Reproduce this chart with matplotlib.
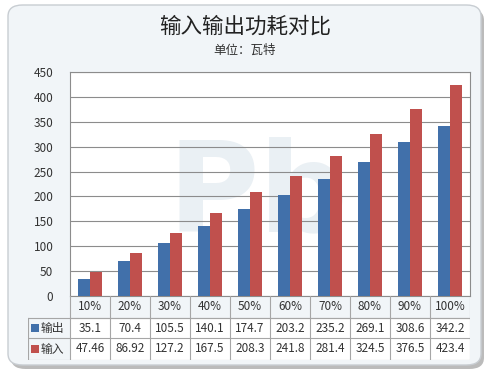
import matplotlib.pyplot as plt
import numpy as np
from matplotlib.patches import FancyBboxPatch, Rectangle

plt.rcParams['font.family'] = ['Noto Sans CJK SC', 'DejaVu Sans']

categories = ['10%', '20%', '30%', '40%', '50%', '60%', '70%', '80%', '90%', '100%']
output_w = [35.1, 70.4, 105.5, 140.1, 174.7, 203.2, 235.2, 269.1, 308.6, 342.2]
input_w = [47.46, 86.92, 127.2, 167.5, 208.3, 241.8, 281.4, 324.5, 376.5, 423.4]
output_lbl = ['35.1', '70.4', '105.5', '140.1', '174.7', '203.2', '235.2', '269.1', '308.6', '342.2']
input_lbl = ['47.46', '86.92', '127.2', '167.5', '208.3', '241.8', '281.4', '324.5', '376.5', '423.4']
series = ['输出', '输入']
colors = ['#4170AA', '#C0504D']

W, H = 487, 375
fig = plt.figure(figsize=(W / 100, H / 100), dpi=100)
fig.patch.set_facecolor('white')

def fx(px):
    return px / W

def fy(py):
    return 1 - py / H

# outer rounded panel with shadow
shadow = FancyBboxPatch((fx(11), fy(369)), fx(473), (366 - 6) / H,
                        boxstyle='round,pad=0,rounding_size=0.03',
                        transform=fig.transFigure, facecolor='#BBBBBB',
                        edgecolor='none', zorder=0)
fig.patches.append(shadow)
panel = FancyBboxPatch((fx(8), fy(365)), fx(473), (365 - 5) / H,
                       boxstyle='round,pad=0,rounding_size=0.03',
                       transform=fig.transFigure, facecolor='#F1F5F8',
                       edgecolor='#C8CDD2', linewidth=1, zorder=1)
fig.patches.append(panel)

fig.text(fx(245), fy(27), '输入输出功耗对比', ha='center', va='center',
         fontsize=15.5, color='#222222')
fig.text(fx(245), fy(50), '单位：瓦特', ha='center', va='center',
         fontsize=9, color='#333333')

# plot area
x0, x1, ytop, ybot = 70, 470, 72, 296
ax = fig.add_axes([fx(x0), fy(ybot), fx(x1 - x0), (ybot - ytop) / H])
ax.set_facecolor('white')
ax.set_zorder(2)
x = np.arange(len(categories))
bw = 0.29
ax.bar(x - bw / 2, output_w, bw, color=colors[0], zorder=3)
ax.bar(x + bw / 2, input_w, bw, color=colors[1], zorder=3)
ax.set_xlim(-0.5, len(categories) - 0.5)
ax.set_ylim(0, 450)
ax.set_yticks(np.arange(0, 451, 50))
ax.set_xticks([])
ax.yaxis.grid(True, color='#8C8C8C', linewidth=0.8, zorder=0)
ax.tick_params(axis='y', length=0, pad=12, labelsize=8.5, labelcolor='#333333')
for s in ax.spines.values():
    s.set_color('#8C8C8C')
    s.set_linewidth(0.8)

# faint watermark
ax.text(4.2, 200, 'Pb', fontsize=90, fontweight='bold', color='#EAF0F4',
        ha='center', va='center', zorder=1, family='DejaVu Sans')

# data table
tx0, ty1 = 28, 360
tab = fig.add_axes([fx(tx0), fy(ty1), fx(x1 - tx0), (ty1 - ybot) / H])
tab.set_zorder(2)
tab.set_xlim(tx0, x1)
tab.set_ylim(ty1, ybot)
tab.axis('off')
rows = [ybot, 318, 338, ty1]
lc = '#A6A6A6'
# vertical lines
for i in range(len(categories) + 1):
    xv = x0 + i * (x1 - x0) / len(categories)
    tab.plot([xv, xv], [rows[0], rows[-1]], color=lc, lw=0.8)
tab.plot([tx0, tx0], [rows[1], rows[-1]], color=lc, lw=0.8)
# horizontal lines
tab.plot([x0, x1], [rows[1], rows[1]], color=lc, lw=0.8)
for r in rows[1:]:
    tab.plot([tx0, x1], [r, r], color=lc, lw=0.8)
tab.add_patch(Rectangle((x0, rows[1]), x1 - x0, rows[-1] - rows[1],
                        facecolor='white', edgecolor='none', zorder=0))
cw = (x1 - x0) / len(categories)
for i, c in enumerate(categories):
    tab.text(x0 + (i + 0.5) * cw, (rows[0] + rows[1]) / 2, c, ha='center',
             va='center', fontsize=8.5, color='#333333')
for k, labels in enumerate([output_lbl, input_lbl]):
    yc = (rows[k + 1] + rows[k + 2]) / 2
    tab.add_patch(Rectangle((31, yc - 4), 8, 8, facecolor=colors[k],
                            edgecolor='none'))
    tab.text(41, yc, series[k], ha='left', va='center', fontsize=8.5,
             color='#333333')
    for i, v in enumerate(labels):
        tab.text(x0 + (i + 0.5) * cw, yc, v, ha='center', va='center',
                 fontsize=8.5, color='#333333')

fig.savefig('out.png', dpi=100)
